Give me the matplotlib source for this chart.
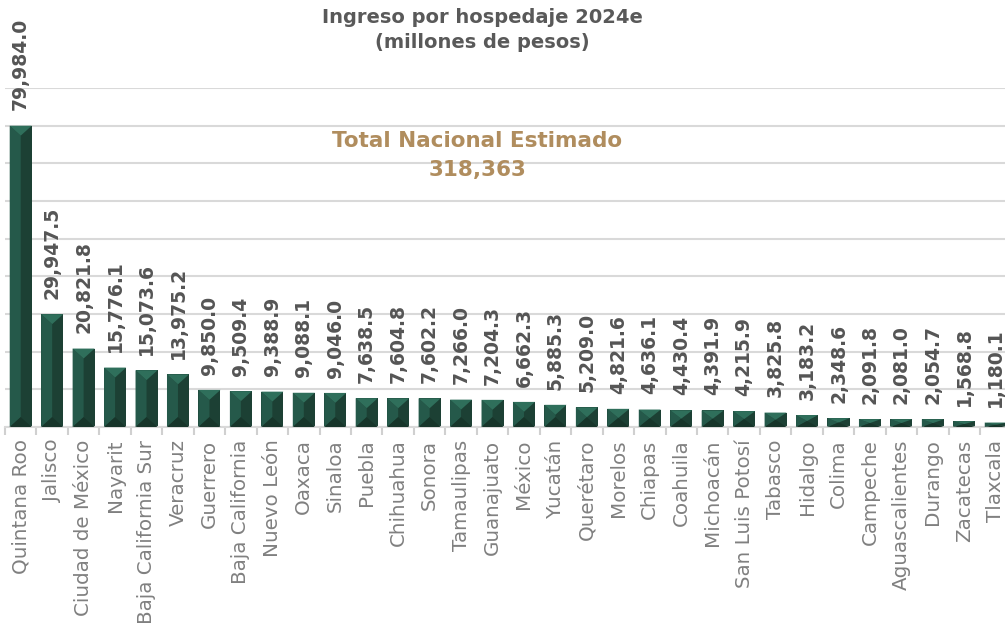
import numpy as np
import matplotlib
matplotlib.use("Agg")
import matplotlib.pyplot as plt
from matplotlib.patches import Polygon

# ── datos ──
estados = ["Quintana Roo", "Jalisco", "Ciudad de México", "Nayarit", "Baja California Sur",
           "Veracruz", "Guerrero", "Baja California", "Nuevo León", "Oaxaca", "Sinaloa",
           "Puebla", "Chihuahua", "Sonora", "Tamaulipas", "Guanajuato", "México", "Yucatán",
           "Querétaro", "Morelos", "Chiapas", "Coahuila", "Michoacán", "San Luis Potosí",
           "Tabasco", "Hidalgo", "Colima", "Campeche", "Aguascalientes", "Durango",
           "Zacatecas", "Tlaxcala"]
ingreso = [79984.0, 29947.5, 20821.8, 15776.1, 15073.6, 13975.2, 9850.0, 9509.4, 9388.9,
           9088.1, 9046.0, 7638.5, 7604.8, 7602.2, 7266.0, 7204.3, 6662.3, 5885.3, 5209.0,
           4821.6, 4636.1, 4430.4, 4391.9, 4215.9, 3825.8, 3183.2, 2348.6, 2091.8, 2081.0,
           2054.7, 1568.8, 1180.1]
total_nacional = "318,363"

plt.rcParams['font.family'] = ['DejaVu Sans']

fig = plt.figure(figsize=(10.05, 6.32), dpi=100)
ax = fig.add_axes([5 / 1005, 1 - 427 / 632, 1006.5 / 1005, (427 - 88) / 632])

x = np.arange(len(estados))
w = 0.7
ymax = 90000
ax.set_xlim(-0.5, len(estados) - 0.5)
ax.set_ylim(0, ymax)

c_right = '#1c4034'
c_left = '#25594a'
c_top = '#2f6f5b'
c_bot = '#17352a'

ax.bar(x, ingreso, width=w, color=c_right, zorder=2)

# bisel tipo pirámide
bb = ax.get_window_extent()
px_x = bb.width / len(estados)
px_y = bb.height / ymax
d = (w / 2) * px_x / px_y * 0.9
for xi, h in zip(x, ingreso):
    dd = min(d, h / 2)
    l, r = xi - w / 2, xi + w / 2
    ax.add_patch(Polygon([(l, 0), (xi, dd), (xi, h - dd), (l, h)], closed=True,
                         color=c_left, lw=0, zorder=3))
    ax.add_patch(Polygon([(l, h), (r, h), (xi, h - dd)], closed=True,
                         color=c_top, lw=0, zorder=3))
    ax.add_patch(Polygon([(l, 0), (r, 0), (xi, dd)], closed=True,
                         color=c_bot, lw=0, zorder=3))
    ax.annotate(f"{h:,.1f}", (xi, h), xytext=(0, 11), textcoords='offset points',
                rotation=90, ha='center', va='bottom', fontsize=13.5,
                fontweight='bold', color='#555555', annotation_clip=False)

# rejilla y ejes
ax.set_yticks(np.arange(0, ymax + 1, 10000))
ax.yaxis.grid(True, color='#d9d9d9', linewidth=1.5, zorder=0)
ax.set_axisbelow(True)
ax.tick_params(axis='y', left=False, labelleft=False)
for s in ['top', 'right', 'left']:
    ax.spines[s].set_visible(False)
ax.spines['bottom'].set_color('#d9d9d9')
ax.spines['bottom'].set_linewidth(1.5)

ax.set_xticks(x)
ax.set_xticklabels(estados, rotation=90, fontsize=14.3, color='#808080')
ax.set_xticks(np.arange(-0.5, len(estados), 1), minor=True)
ax.tick_params(axis='x', which='major', length=0, pad=9)
ax.tick_params(axis='x', which='minor', length=6, color='#d0d0d0', width=1.5)

fig.text(0.48, 0.988, "Ingreso por hospedaje 2024e\n(millones de pesos)",
         ha='center', va='top', fontsize=14, fontweight='bold', color='#595959',
         linespacing=1.42)
fig.text(0.475, 0.793, "Total Nacional Estimado\n" + total_nacional,
         ha='center', va='top', fontsize=15.5, fontweight='bold', color='#b08d5e',
         linespacing=1.55)

fig.savefig("out.png", dpi=100)
